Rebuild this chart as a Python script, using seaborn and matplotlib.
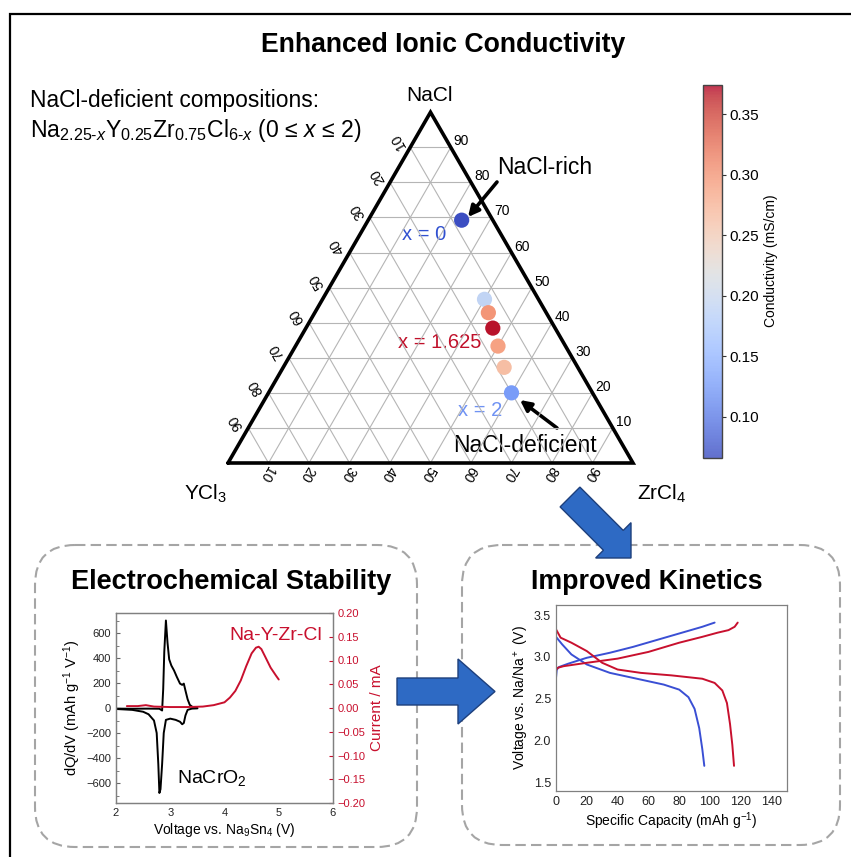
import numpy as np
import pandas as pd
import matplotlib
matplotlib.use("Agg")
import matplotlib.pyplot as plt
import seaborn as sns
import matplotlib.colorbar as mcolorbar
from matplotlib.patches import FancyBboxPatch, FancyArrow
from matplotlib.colors import Normalize
from matplotlib.ticker import MultipleLocator, FuncFormatter

# ---------------- data ----------------
# Na(2.25-x)Y0.25Zr0.75Cl(6-x) series and measured conductivity (mS/cm)
x_values = [0.0, 1.375, 1.5, 1.625, 1.75, 1.875, 2.0]
conductivity = [0.068, 0.19, 0.30, 0.37, 0.29, 0.265, 0.125]
cbar_ticks = [0.10, 0.15, 0.20, 0.25, 0.30, 0.35]
cbar_range = (0.066, 0.374)
grid_ticks = [10, 20, 30, 40, 50, 60, 70, 80, 90]

# NaCrO2 dQ/dV (charge then discharge)
v_charge = [2.0, 2.3, 2.6, 2.8, 2.85, 2.87, 2.89, 2.92, 2.95, 2.98, 3.02, 3.07, 3.12, 3.18, 3.22, 3.25, 3.28, 3.32, 3.36, 3.42, 3.5]
dqdv_charge = [-5, -6, -5, -6, -20, 150, 450, 700, 520, 390, 340, 300, 250, 195, 185, 195, 140, 70, 25, 5, 0]
v_discharge = [3.5, 3.4, 3.32, 3.28, 3.25, 3.22, 3.18, 3.1, 3.0, 2.92, 2.88, 2.85, 2.82, 2.80, 2.78, 2.75, 2.70, 2.6, 2.5, 2.3, 2.0]
dqdv_discharge = [-3, -5, -15, -60, -120, -130, -110, -95, -85, -95, -200, -450, -650, -680, -450, -200, -100, -50, -30, -15, -8]

# Na-Y-Zr-Cl linear sweep current (mA)
v_sweep = [2.2, 2.4, 2.55, 2.7, 3.0, 3.3, 3.6, 3.8, 4.0, 4.1, 4.2, 4.3, 4.4, 4.5, 4.58, 4.63, 4.68, 4.75, 4.85, 4.95, 5.0]
current = [0.004, 0.004, 0.006, 0.003, 0.002, 0.002, 0.003, 0.006, 0.012, 0.022, 0.036, 0.058, 0.088, 0.115, 0.127, 0.129, 0.124, 0.108, 0.085, 0.068, 0.060]

# galvanostatic cycling: capacity (mAh/g) vs voltage (V)
blue_chg_cap = [0, 0, 0.5, 2, 8, 20, 35, 50, 65, 80, 95, 103]
blue_chg_v = [2.40, 2.75, 2.85, 2.88, 2.92, 2.99, 3.05, 3.12, 3.20, 3.28, 3.36, 3.41]
blue_dis_cap = [0, 4, 10, 20, 35, 55, 70, 80, 86, 90, 93, 95, 96.3]
blue_dis_v = [3.24, 3.15, 3.03, 2.91, 2.81, 2.73, 2.67, 2.61, 2.52, 2.38, 2.15, 1.90, 1.70]
red_chg_cap = [0, 0, 1, 5, 20, 40, 60, 80, 95, 105, 112, 116, 118]
red_chg_v = [2.80, 2.84, 2.87, 2.89, 2.93, 2.98, 3.06, 3.17, 3.24, 3.29, 3.32, 3.36, 3.41]
red_dis_cap = [0, 3, 10, 20, 30, 40, 55, 75, 95, 103, 108, 111, 113, 114.5, 115.6]
red_dis_v = [3.33, 3.23, 3.17, 3.07, 2.93, 2.85, 2.81, 2.78, 2.74, 2.69, 2.60, 2.45, 2.20, 1.95, 1.70]

# ---------------- style ----------------
sns.set_style("white")
plt.rcParams['font.family'] = ['Liberation Sans', 'DejaVu Sans']
plt.rcParams['mathtext.fontset'] = 'custom'
plt.rcParams['mathtext.rm'] = 'Liberation Sans'
plt.rcParams['mathtext.it'] = 'Liberation Sans:italic'
plt.rcParams['mathtext.bf'] = 'Liberation Sans:bold'
for key in ['text.color', 'axes.labelcolor', 'xtick.color', 'ytick.color']:
    plt.rcParams[key] = 'black'

W, H = 851, 857
fig = plt.figure(figsize=(W / 100, H / 100), dpi=100)


def rect(x0, y0, w, h):
    """Figure rectangle from pixel box (top-left origin)."""
    return [x0 / W, 1 - (y0 + h) / H, w / W, h / H]


def fmt(decimals):
    return FuncFormatter(lambda v, _: f"{v:.{decimals}f}".replace('-', '\u2212'))


# background canvas in pixel units
bg = fig.add_axes([0, 0, 1, 1])
bg.set_xlim(0, W)
bg.set_ylim(H, 0)
bg.axis('off')

bg.plot([10, 10, W], [H, 14, 14], color='black', lw=1.6, solid_joinstyle='miter')

bg.text(443, 45, "Enhanced Ionic Conductivity", fontsize=19.2, fontweight='bold',
        ha='center', va='center')
bg.text(30, 100, "NaCl-deficient compositions:", fontsize=16.4, ha='left', va='center')
bg.text(30, 130, r"Na$_{\mathit{2.25‐x}}$Y$_{0.25}$Zr$_{0.75}$Cl$_{\mathit{6‐x}}$ (0 ≤ $\mathit{x}$ ≤ 2)",
        fontsize=16.6, ha='left', va='center')

# ---------------- ternary diagram ----------------
s3 = np.sqrt(3) / 2
side = 405.0
tern = fig.add_axes(rect(228, 463 - side * s3, side, side * s3))
tern.set_xlim(0, 1)
tern.set_ylim(0, s3)
tern.axis('off')

grid_kw = dict(color='#b5b5b5', lw=0.8, zorder=1, clip_on=False)
for t in grid_ticks:
    f = t / 100
    tern.plot([f / 2, 1 - f / 2], [f * s3, f * s3], **grid_kw)                 # NaCl constant
    tern.plot([(1 - f) / 2, 1 - f], [(1 - f) * s3, 0], **grid_kw)             # YCl3 constant
    tern.plot([f, f + (1 - f) / 2], [0, (1 - f) * s3], **grid_kw)             # ZrCl4 constant
tern.plot([0, 1, 0.5, 0], [0, 0, s3, 0], color='black', lw=2.6, zorder=3,
          solid_joinstyle='miter', clip_on=False)

u = 1 / side
for t in grid_ticks:
    f = t / 100
    # NaCl (right edge)
    tern.text(1 - f / 2 + 3 * u, f * s3 + 6 * u, f"{t}", fontsize=10, ha='left', va='center')
    # YCl3 (left edge)
    tern.text((1 - f) / 2 - 12 * u, (1 - f) * s3 + 6 * u, f"{t}", fontsize=10, rotation=120,
              ha='center', va='center', rotation_mode='anchor')
    # ZrCl4 (bottom edge)
    tern.text(f - 2 * u, -11 * u, f"{t}", fontsize=10, rotation=240,
              ha='center', va='center', rotation_mode='anchor')

na = np.array([2.25 - x for x in x_values])
yy = np.array([0.25] * len(x_values))
zr = np.array([0.75] * len(x_values))
tot = na + yy + zr
pts = pd.DataFrame({
    "cx": zr / tot + 0.5 * na / tot,
    "cy": s3 * na / tot,
    "sigma": conductivity,
})
norm = Normalize(*cbar_range)
sns.scatterplot(data=pts, x="cx", y="cy", hue="sigma", palette="coolwarm", hue_norm=norm,
                s=120, edgecolor='none', legend=False, ax=tern, zorder=5)
tern.set_xlim(0, 1)
tern.set_ylim(0, s3)

bg.text(430, 95, "NaCl", fontsize=15, ha='center', va='center')
bg.text(206, 494, r"YCl$_3$", fontsize=15, ha='center', va='center')
bg.text(662, 494, r"ZrCl$_4$", fontsize=15, ha='center', va='center')

bg.text(497, 167, "NaCl-rich", fontsize=16.5, ha='left', va='center')
bg.text(453, 445, "NaCl-deficient", fontsize=16.5, ha='left', va='center')
arrow_kw = dict(arrowstyle='-|>', color='black', lw=2.6, mutation_scale=16, shrinkA=0, shrinkB=0)
bg.annotate("", xy=(468, 217), xytext=(497, 182), arrowprops=arrow_kw)
bg.annotate("", xy=(520, 400), xytext=(557, 428), arrowprops=arrow_kw)

bg.text(402, 234, "x = 0", fontsize=14.5, color='#3050d0', ha='left', va='center')
bg.text(398, 342, "x = 1.625", fontsize=14.5, color='#c0102a', ha='left', va='center')
bg.text(458, 410, "x = 2", fontsize=14.5, color='#6f92f3', ha='left', va='center')

# colorbar
cax = fig.add_axes(rect(703, 85, 19, 373))
cb = mcolorbar.ColorbarBase(cax, cmap=plt.get_cmap('coolwarm'), norm=norm, alpha=0.8)
cb.set_ticks(cbar_ticks)
cb.ax.yaxis.set_major_formatter(fmt(2))
cb.ax.tick_params(labelsize=11, length=3, width=0.8, color='#333', pad=2)
cb.outline.set_edgecolor('#444')
cb.outline.set_linewidth(1)
cb.set_label("Conductivity (mS/cm)", fontsize=10, labelpad=2)
cb.ax.yaxis.set_label_coords(3.2, 0.53)

# ---------------- panels ----------------
box_kw = dict(boxstyle="round,pad=0,rounding_size=40", fill=False, ec='#a5a5a5', lw=1.5,
              ls=(0, (5, 2.5)), zorder=1)
bg.add_patch(FancyBboxPatch((35, 545), 382, 302, **box_kw))
bg.add_patch(FancyBboxPatch((462, 545), 378, 300, **box_kw))

bg.text(231, 582, "Electrochemical Stability", fontsize=19.5, fontweight='bold',
        ha='center', va='center')
bg.text(647, 582, "Improved Kinetics", fontsize=19.3, fontweight='bold',
        ha='center', va='center')

arrow_fc, arrow_ec = '#2e6ac4', '#1d3f7c'
bg.add_patch(FancyArrow(570, 497, 61, 61, width=28, head_width=50, head_length=25,
                        length_includes_head=True, fc=arrow_fc, ec=arrow_ec, lw=1, zorder=4))
bg.add_patch(FancyArrow(397, 691.5, 98, 0, width=27, head_width=65, head_length=37,
                        length_includes_head=True, fc=arrow_fc, ec=arrow_ec, lw=1, zorder=4))


def style_inset(ax, labelsize):
    for sp in ax.spines.values():
        sp.set_color('#808080')
        sp.set_linewidth(0.9)
    ax.tick_params(which='both', direction='in', color='#666', labelsize=labelsize,
                   labelcolor='#222')
    ax.tick_params(which='major', length=3)
    ax.tick_params(which='minor', length=2)


# left inset: dQ/dV and current
red = '#c8102e'
ax1 = fig.add_axes(rect(116, 613, 217, 190))
sns.lineplot(x=v_charge, y=dqdv_charge, sort=False, estimator=None, color='black', lw=1.4, ax=ax1)
sns.lineplot(x=v_discharge, y=dqdv_discharge, sort=False, estimator=None, color='black', lw=1.4, ax=ax1)
ax1.set_xlim(2, 6)
ax1.set_ylim(-760, 760)
ax1.xaxis.set_major_locator(MultipleLocator(1))
ax1.xaxis.set_minor_locator(MultipleLocator(0.5))
ax1.yaxis.set_major_locator(MultipleLocator(200))
ax1.yaxis.set_minor_locator(MultipleLocator(100))
ax1.yaxis.set_major_formatter(fmt(0))
style_inset(ax1, 8)
ax1.set_xlabel(r"Voltage vs. Na$_9$Sn$_4$ (V)", fontsize=10, labelpad=2)
ax1.set_ylabel(r"dQ/dV (mAh g$^{-1}$ V$^{-1}$)", fontsize=10.5, labelpad=2)

ax2 = ax1.twinx()
sns.lineplot(x=v_sweep, y=current, sort=False, estimator=None, color=red, lw=1.4, ax=ax2)
ax2.set_ylim(-0.2, 0.2)
ax2.yaxis.set_major_locator(MultipleLocator(0.05))
ax2.yaxis.set_major_formatter(fmt(2))
style_inset(ax2, 8)
ax2.tick_params(axis='y', labelcolor=red, color=red)
ax2.set_ylabel("Current / mA", fontsize=11, color=red, labelpad=3)
ax1.text(0.737, 0.884, "Na-Y-Zr-Cl", transform=ax1.transAxes, fontsize=14, color=red,
         ha='center', va='center')
ax1.text(0.442, 0.132, r"NaCrO$_2$", transform=ax1.transAxes, fontsize=14,
         ha='center', va='center')

# right inset: voltage profiles
blue = '#3a4fd4'
ax3 = fig.add_axes(rect(556, 605, 231, 186))
for cap, volt, col in [(blue_chg_cap, blue_chg_v, blue), (blue_dis_cap, blue_dis_v, blue),
                       (red_chg_cap, red_chg_v, red), (red_dis_cap, red_dis_v, red)]:
    sns.lineplot(x=cap, y=volt, sort=False, estimator=None, color=col, lw=1.4, ax=ax3)
ax3.set_xlim(0, 150)
ax3.set_ylim(1.4, 3.62)
ax3.xaxis.set_major_locator(MultipleLocator(20))
ax3.xaxis.set_minor_locator(MultipleLocator(10))
ax3.yaxis.set_major_locator(MultipleLocator(0.5))
ax3.yaxis.set_minor_locator(MultipleLocator(0.1))
ax3.yaxis.set_major_formatter(fmt(1))
style_inset(ax3, 9)
ax3.set_xlabel(r"Specific Capacity (mAh g$^{-1}$)", fontsize=10, labelpad=2)
ax3.set_ylabel(r"Voltage vs. Na/Na$^+$ (V)", fontsize=10, labelpad=2)

fig.savefig("out.png", dpi=100)
